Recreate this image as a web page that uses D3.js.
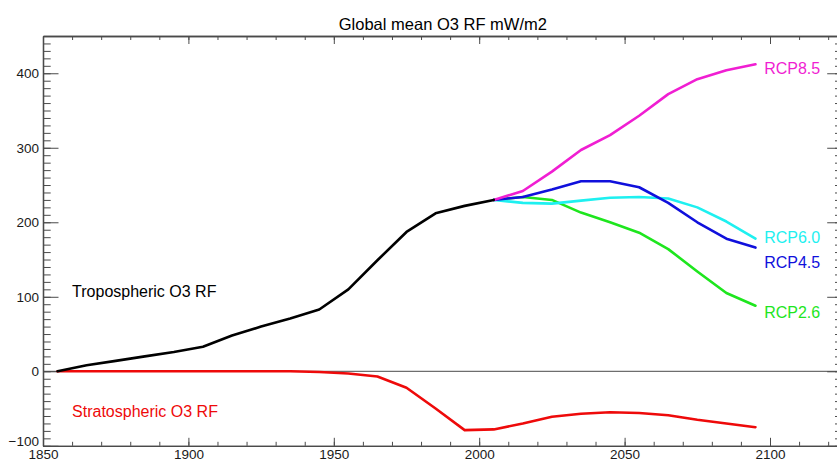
<!DOCTYPE html>
<html>
<head>
<meta charset="utf-8">
<script src="https://cdn.jsdelivr.net/npm/d3@7"></script>
<style>
  html, body { margin: 0; padding: 0; background: #fff; }
  svg { display: block; font-family: "Liberation Sans", Arial, Helvetica, sans-serif; }
</style>
</head>
<body>
<svg id="chart" width="837" height="463"></svg>
<script>
// Decadal mid-point years
const histYears = [1855, 1865, 1875, 1885, 1895, 1905, 1915, 1925, 1935, 1945, 1955, 1965, 1975, 1985, 1995, 2005];
const futYears  = [2005, 2015, 2025, 2035, 2045, 2055, 2065, 2075, 2085, 2095];
const stratYears = histYears.concat(futYears.slice(1));

// Tropospheric O3 RF (mW/m2), historical
const tropHist = [0, 8, 14, 20, 26, 33, 48, 60, 71, 83, 110, 149, 187, 212, 222, 230];

// Tropospheric O3 RF under the RCP scenarios
const rcp85 = [230, 242, 268, 297, 317, 343, 372, 392, 404, 412];
const rcp60 = [230, 226, 225, 229, 233, 234, 232, 220, 201, 178];
const rcp45 = [230, 234, 244, 255, 255, 247, 226, 200, 178, 166];
const rcp26 = [230, 234, 230, 213, 200, 186, 164, 134, 105, 88];

// Stratospheric O3 RF (mW/m2)
const strat = [0, 0, 0, 0, 0, 0, 0, 0, 0, -1, -3, -7, -22, -50, -79, -78, -70, -61, -57, -55, -56, -59, -65, -70, -75];

// Axis ticks
const xMajor = [1850, 1900, 1950, 2000, 2050, 2100];
const xMinor = d3.range(1850, 2126, 10);
const yMajor = [-100, 0, 100, 200, 300, 400];
const yMinor = d3.range(-100, 451, 10);

const title = "Global mean O3 RF mW/m2";

const svg = d3.select("#chart");
const x = d3.scaleLinear().domain([1850, 2125]).range([43, 842.7]);
const y = d3.scaleLinear().domain([-100, 450]).range([445.8, 36]);

const axisColor = "#4a4a4a";
const fontPx = "13.5px";

// zero line
svg.append("line")
  .attr("x1", x(1850)).attr("x2", x(2125))
  .attr("y1", y(0)).attr("y2", y(0))
  .attr("stroke", "#6e6e6e").attr("stroke-width", 1.2);

function styleAxis(g) {
  g.selectAll("path.domain").attr("stroke", axisColor).attr("stroke-width", 1.3);
  g.selectAll(".tick line").attr("stroke", axisColor).attr("stroke-width", 1);
  g.selectAll(".tick text").attr("fill", "#1a1a1a").style("font-size", fontPx)
    .style("font-family", '"Liberation Sans", Arial, sans-serif');
}

// minor ticks
svg.append("g").attr("transform", `translate(0,${y(-100)})`)
  .call(d3.axisBottom(x).tickValues(xMinor).tickSize(-4).tickSizeOuter(0).tickFormat(""))
  .call(styleAxis);
svg.append("g").attr("transform", `translate(0,${y(450)})`)
  .call(d3.axisTop(x).tickValues(xMinor).tickSize(-4).tickSizeOuter(0).tickFormat(""))
  .call(styleAxis);
svg.append("g").attr("transform", `translate(${x(1850)},0)`)
  .call(d3.axisLeft(y).tickValues(yMinor).tickSize(-7.7).tickSizeOuter(0).tickFormat(""))
  .call(styleAxis);
svg.append("g").attr("transform", `translate(${x(2125)},0)`)
  .call(d3.axisRight(y).tickValues(yMinor).tickSize(-7.7).tickSizeOuter(0).tickFormat(""))
  .call(styleAxis);

// major ticks
svg.append("g").attr("transform", `translate(0,${y(-100)})`)
  .call(d3.axisBottom(x).tickValues(xMajor).tickSize(-8).tickSizeOuter(0).tickPadding(3.5).tickFormat(d3.format("d")))
  .call(styleAxis);
svg.append("g").attr("transform", `translate(0,${y(450)})`)
  .call(d3.axisTop(x).tickValues(xMajor).tickSize(-8).tickSizeOuter(0).tickFormat(""))
  .call(styleAxis);
const yAx = svg.append("g").attr("transform", `translate(${x(1850)},0)`)
  .call(d3.axisLeft(y).tickValues(yMajor).tickSize(-15.5).tickSizeOuter(0).tickPadding(4).tickFormat(d3.format("d")))
  .call(styleAxis);
yAx.selectAll(".tick").filter(d => d === -100).select("text").attr("dy", "0.0em");
svg.append("g").attr("transform", `translate(${x(2125)},0)`)
  .call(d3.axisRight(y).tickValues(yMajor).tickSize(-15.5).tickSizeOuter(0).tickFormat(""))
  .call(styleAxis);

// series
const line = d3.line().x(d => x(d[0])).y(d => y(d[1]));
function drawSeries(years, vals, color) {
  svg.append("path")
    .datum(d3.zip(years, vals))
    .attr("d", line)
    .attr("fill", "none")
    .attr("stroke", color)
    .attr("stroke-width", 2.6)
    .attr("stroke-linejoin", "round")
    .attr("stroke-linecap", "round");
}

const colors = { rcp85: "#f01ed2", rcp60: "#1ef0f0", rcp45: "#1010dc", rcp26: "#1ee61e", strat: "#ee0a0a", trop: "#000000" };

drawSeries(stratYears, strat, colors.strat);
drawSeries(futYears, rcp26, colors.rcp26);
drawSeries(futYears, rcp60, colors.rcp60);
drawSeries(futYears, rcp45, colors.rcp45);
drawSeries(futYears, rcp85, colors.rcp85);
drawSeries(histYears, tropHist, colors.trop);

// text labels (positions in data units)
const labels = [
  { t: "RCP8.5", yr: 2098, v: 399, c: colors.rcp85 },
  { t: "RCP6.0", yr: 2098, v: 172, c: colors.rcp60 },
  { t: "RCP4.5", yr: 2098, v: 139, c: colors.rcp45 },
  { t: "RCP2.6", yr: 2098, v: 72,  c: colors.rcp26 },
  { t: "Tropospheric O3 RF", yr: 1860, v: 100, c: "#000000" },
  { t: "Stratospheric O3 RF", yr: 1860, v: -61, c: colors.strat }
];
svg.append("g").selectAll("text").data(labels).join("text")
  .attr("x", d => x(d.yr))
  .attr("y", d => y(d.v))
  .attr("fill", d => d.c)
  .style("font-size", "16px")
  .text(d => d.t);

svg.append("text")
  .attr("x", (x(1850) + x(2125)) / 2)
  .attr("y", 30)
  .attr("text-anchor", "middle")
  .attr("fill", "#000")
  .style("font-size", "16.5px")
  .text(title);
</script>
</body>
</html>
